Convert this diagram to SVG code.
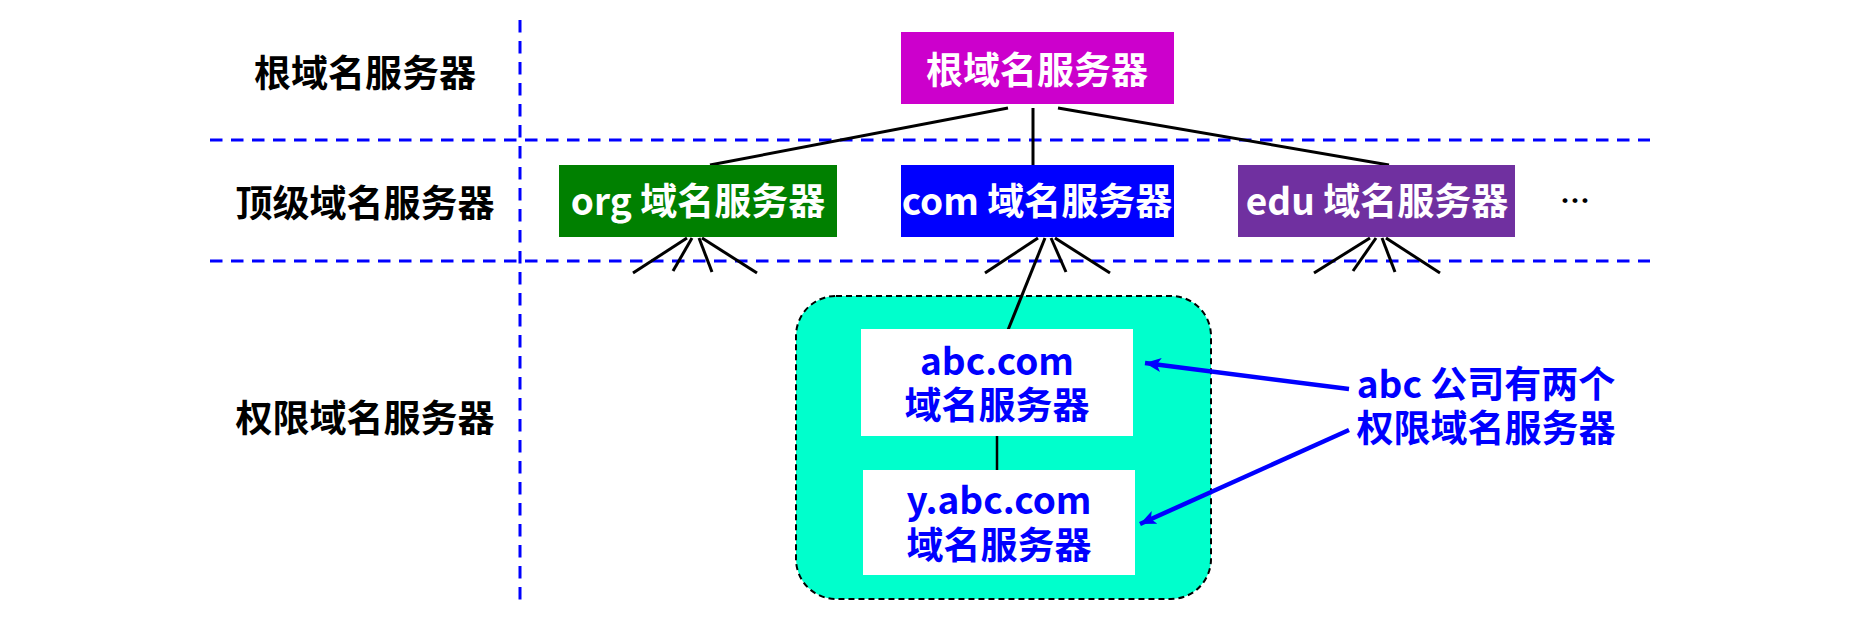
<svg xmlns="http://www.w3.org/2000/svg" width="1870" height="621" viewBox="0 0 1870 621">
<style>
.t{font-family:"Noto Sans CJK SC","Noto Sans",sans-serif;font-weight:bold;font-size:37px;text-anchor:middle}
.guide{stroke:#0000FF;stroke-width:3;stroke-dasharray:12.5 8.5;fill:none}
.ln{stroke:#000;stroke-width:3;fill:none}
.arr{stroke:#0000FF;stroke-width:4.5;fill:none;marker-end:url(#ah)}
</style>
<defs>
<marker id="ah" markerUnits="userSpaceOnUse" markerWidth="18" markerHeight="14" refX="16" refY="7" orient="auto">
<path d="M0,0 L16,7 L0,14 L4,7 Z" fill="#0000FF"/>
</marker>
</defs>
<rect width="1870" height="621" fill="#fff"/>
<g id="guides">
<line class="guide" x1="520" y1="20" x2="520" y2="602"/>
<line class="guide" x1="210" y1="140" x2="1650" y2="140"/>
<line class="guide" x1="210" y1="261" x2="1650" y2="261"/>
</g>
<g id="labels">
<text class="t" x="365" y="87" fill="#000">根域名服务器</text>
<text class="t" x="365" y="217" fill="#000">顶级域名服务器</text>
<text class="t" x="365" y="432" fill="#000">权限域名服务器</text>
</g>
<g id="zone">
<rect x="796" y="296" width="415" height="303" rx="40" ry="40" fill="#00FFCC" stroke="#000" stroke-width="2" stroke-dasharray="6 4"/>
</g>
<g id="connectors">
<line class="ln" x1="1008" y1="108" x2="710" y2="165"/>
<line class="ln" x1="1033" y1="108" x2="1033" y2="165"/>
<line class="ln" x1="1058" y1="108" x2="1389" y2="165"/>
<line class="ln" x1="687" y1="238" x2="633" y2="273"/>
<line class="ln" x1="692" y1="238" x2="673" y2="271"/>
<line class="ln" x1="699" y1="238" x2="712" y2="272"/>
<line class="ln" x1="702" y1="238" x2="757" y2="273"/>
<line class="ln" x1="1038" y1="238" x2="985" y2="273"/>
<line class="ln" x1="1045" y1="238" x2="1008" y2="330"/>
<line class="ln" x1="1051" y1="238" x2="1066" y2="272"/>
<line class="ln" x1="1055" y1="238" x2="1110" y2="273"/>
<line class="ln" x1="1370" y1="238" x2="1314" y2="273"/>
<line class="ln" x1="1376" y1="238" x2="1353" y2="271"/>
<line class="ln" x1="1382" y1="238" x2="1395" y2="272"/>
<line class="ln" x1="1386" y1="238" x2="1440" y2="273"/>
<line stroke="#000" stroke-width="2.5" x1="997" y1="436" x2="997" y2="472"/>
<line class="arr" x1="1349" y1="389" x2="1145" y2="363"/>
<line class="arr" x1="1349" y1="430" x2="1140" y2="524"/>
</g>
<g id="root">
<rect x="901" y="32" width="273" height="72" fill="#CC00CC"/>
<text class="t" x="1037" y="84" fill="#fff">根域名服务器</text>
</g>
<g id="org">
<rect x="559" y="165" width="278" height="72" fill="#008000"/>
<text class="t" x="698" y="215" fill="#fff">org 域名服务器</text>
</g>
<g id="com">
<rect x="901" y="165" width="273" height="72" fill="#0000FF"/>
<text class="t" x="1037" y="215" fill="#fff">com 域名服务器</text>
</g>
<g id="edu">
<rect x="1238" y="165" width="277" height="72" fill="#7030A0"/>
<text class="t" x="1377" y="215" fill="#fff">edu 域名服务器</text>
</g>
<g id="more">
<text class="t" x="1575" y="212" fill="#000" style="font-size:30px">…</text>
</g>
<g id="abc">
<rect x="861" y="329" width="272" height="107" fill="#fff"/>
<text class="t" fill="#0000FF"><tspan x="997" y="375">abc.com</tspan><tspan x="997" y="419">域名服务器</tspan></text>
</g>
<g id="yabc">
<rect x="863" y="470" width="272" height="105" fill="#fff"/>
<text class="t" fill="#0000FF"><tspan x="999" y="514">y.abc.com</tspan><tspan x="999" y="559">域名服务器</tspan></text>
</g>
<g id="note">
<text class="t" fill="#0000FF"><tspan x="1486" y="398">abc 公司有两个</tspan><tspan x="1486" y="442">权限域名服务器</tspan></text>
</g>
</svg>
